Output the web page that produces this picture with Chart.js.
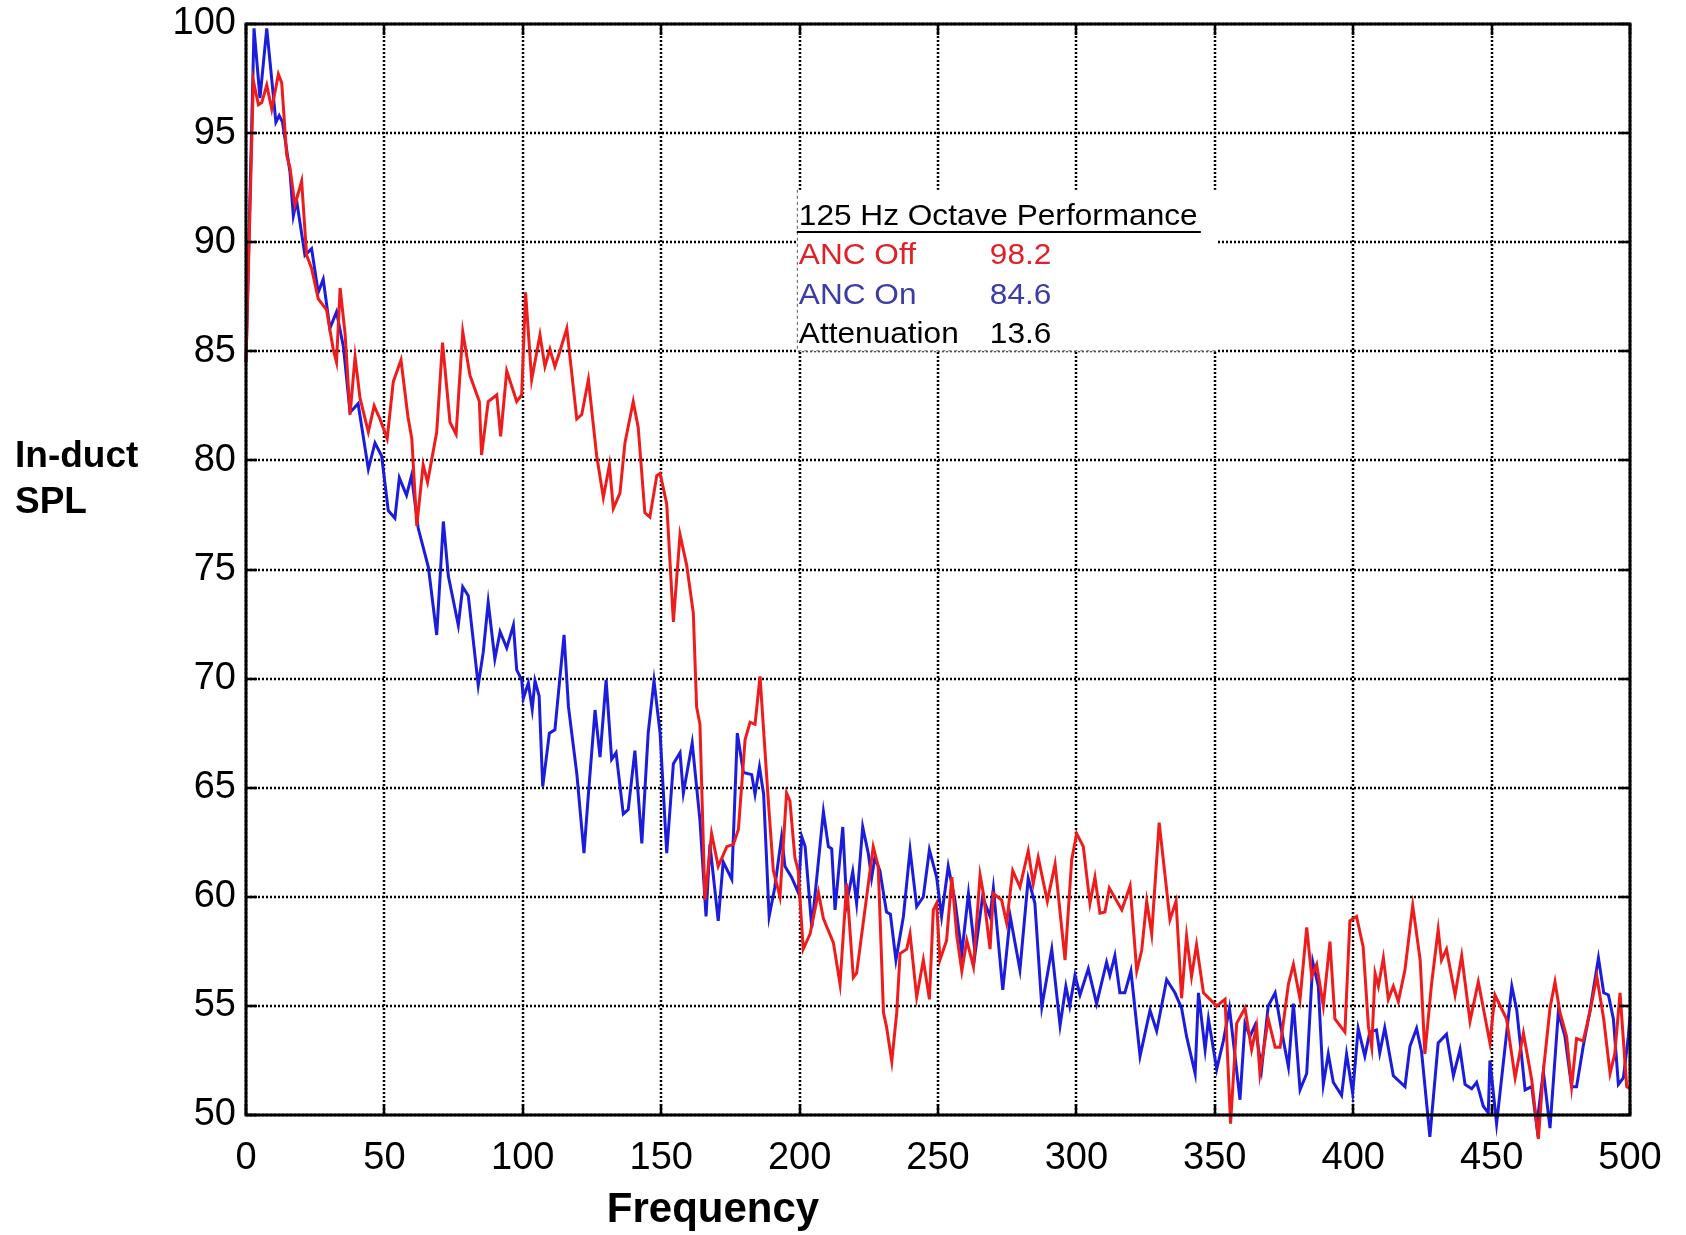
<!DOCTYPE html>
<html>
<head>
<meta charset="utf-8">
<script src="https://cdn.jsdelivr.net/npm/chart.js@4.4.1/dist/chart.umd.min.js"></script>
<style>
    html, body { margin: 0; padding: 0; background: #ffffff; }
    canvas { display: block; }
</style>
</head>
<body>
<canvas id="spl-chart" width="1686" height="1235"></canvas>
<script>
// ANC Off (red) - frequency / level vertices
const offFreq = [
    0, 2.65, 4.5, 5.7, 7.5, 9.3, 11.7, 12.9, 14.7, 15.9, 17.7, 20.1, 21.9, 23.7, 26.1, 29.1,
    31.5, 32.7, 34.0, 35.8, 37.6, 39.4, 41.2, 44.2, 46.3, 48.4, 51.0, 53.2, 56.0, 58.5, 59.9,
    61.7, 64.0, 65.6, 68.9, 71.0, 73.7, 75.9, 78.3, 80.9, 84.3, 85.1, 87.5, 90.6, 92.0, 94.2,
    97.8, 99.6, 101.0, 103.2, 106.2, 108.0, 109.8, 111.6, 113.4, 115.9, 119.5, 121.3, 123.7,
    126.7, 129.1, 131.3, 132.7, 135.1, 136.9, 139.9, 141.7, 144.1, 145.9, 148.4, 149.6, 152.0,
    154.4, 156.8, 159.2, 161.6, 162.8, 164.0, 165.8, 168.2, 170.6, 173.7, 176.1, 177.9, 180.3,
    182.1, 183.9, 185.7, 188.7, 190.5, 192.9, 195.3, 196.5, 198.3, 199.5, 201.3, 203.8, 206.8,
    208.6, 212.2, 214.6, 217.0, 219.4, 220.6, 226.6, 228.4, 230.3, 231.4, 233.3, 235.1, 236.3,
    238.7, 239.9, 242.3, 244.7, 246.9, 248.3, 249.5, 250.7, 253.1, 255.0, 256.8, 258.6, 260.4,
    262.8, 265.2, 266.4, 268.8, 270.0, 273.0, 274.8, 277.0, 279.6, 282.6, 284.4, 286.2, 289.5,
    292.3, 295.9, 298.3, 300.1, 302.5, 304.9, 306.7, 308.5, 310.3, 311.9, 316.4, 319.4, 321.8,
    323.6, 325.4, 327.2, 329.9, 333.8, 336.0, 338.0, 339.8, 341.6, 343.4, 345.9, 348.3, 350.7,
    353.7, 355.7, 357.9, 360.9, 363.3, 365.1, 366.3, 369.3, 371.8, 373.6, 376.6, 378.4, 380.8,
    383.2, 385.0, 386.8, 389.2, 391.6, 393.4, 397.0, 398.8, 401.2, 403.6, 405.5, 406.7, 407.9,
    409.1, 410.9, 412.7, 414.5, 416.3, 418.7, 421.5, 424.2, 425.9, 428.3, 430.7, 431.9, 433.7,
    436.8, 439.2, 442.2, 445.2, 447.0, 449.4, 451.2, 455.4, 458.5, 461.5, 464.5, 466.9, 468.7,
    471.1, 472.9, 474.7, 477.1, 478.9, 480.7, 483.1, 485.5, 488.0, 490.5, 492.8, 494.5, 496.4,
    498.8, 500
];
const offLevel = [
    84.5, 97.4, 96.3, 96.4, 97.2, 96.1, 97.7, 97.3, 94.0, 93.4, 91.7, 92.8, 89.4, 88.8, 87.4, 86.9,
    85.1, 84.5, 87.9, 85.8, 82.1, 84.75, 82.85, 81.3, 82.5, 81.9, 81.0, 83.6, 84.6, 82.0, 81.0,
    77.0, 79.8, 79.0, 81.3, 85.4, 81.75, 81.2, 85.9, 83.9, 82.7, 80.25, 82.7, 83.0, 81.1, 84.1,
    82.7, 83.0, 87.7, 83.7, 85.75, 84.3, 85.1, 84.3, 85.0, 86.05, 81.9, 82.1, 83.7,
    80.2, 78.3, 79.8, 77.8, 78.5, 80.8, 82.7, 81.5, 77.6, 77.4, 79.3, 79.4, 78.0,
    72.6, 76.6, 75.2, 73.0, 68.7, 67.9, 59.85, 62.9, 61.4, 62.3, 62.4, 63.1, 67.2,
    68.0, 67.9, 70.1, 64.4, 61.2, 60.0, 64.75, 64.4, 61.8, 61.2, 57.6, 58.3, 60.2,
    59.0, 57.9, 56.0, 60.6, 56.3, 56.5, 62.3, 61.4, 54.7, 54.05, 52.45, 54.7, 57.4,
    57.6, 58.3, 55.4, 57.1, 55.3, 59.4, 59.7, 57.1, 58.0, 60.9, 58.2, 56.6, 58.0,
    56.8, 61.0, 60.15, 57.6, 60.15, 59.85, 58.8, 61.2, 60.45, 62.1, 60.6, 61.8, 59.8,
    61.5, 57.1, 61.7, 62.9, 62.3, 59.7, 60.9, 59.25, 59.3, 60.4, 59.4, 60.5, 56.6,
    57.55, 59.8, 58.3, 63.4, 58.95, 59.8, 55.35, 58.2, 56.35, 57.8, 55.6, 55.3, 55.0,
    55.3, 49.6, 54.2, 54.9, 53.0, 54.05, 51.9, 54.4, 53.1, 53.1, 56.0, 56.9, 55.3,
    58.6, 56.35, 56.9, 55.0, 57.95, 54.4, 53.8, 58.9, 59.1, 57.7, 54.05, 53.1, 56.5,
    55.9, 57.2, 55.3, 55.9, 55.2, 56.65, 59.6, 57.1, 52.8, 56.0, 58.5, 57.1, 57.6,
    55.5, 57.3, 54.3, 56.1, 54.9, 53.3, 55.5, 54.4, 51.7, 53.75, 51.6, 48.9, 52.0,
    54.9, 56.1, 54.7, 53.6, 51.3, 53.5, 53.4, 54.7, 56.35, 54.4, 51.9, 52.8, 55.6,
    51.3, 51.2
];

// ANC On (blue)
const onFreq = [
    0, 2.9, 5.05, 7.5, 10.8, 12.0, 13.2, 15.9, 17.1, 18.3, 21.3, 23.7, 26.1, 27.9, 30.3, 32.7,
    35.2, 37.6, 40.5, 44.2, 46.6, 49.0, 51.4, 53.8, 55.4, 58.0, 59.8, 62.2, 65.9, 68.9, 71.3,
    73.1, 76.7, 78.3, 80.3, 83.9, 85.7, 87.5, 89.9, 91.8, 94.2, 96.6, 97.8, 99.6, 100.2, 102.0,
    103.4, 104.4, 105.9, 107.2, 109.6, 111.6, 114.9, 116.5, 119.5, 122.1, 123.7, 126.1, 127.9,
    130.1, 132.1, 133.7, 136.3, 138.1, 140.5, 143.0, 145.3, 147.4, 149.6, 152.0, 154.4, 156.8,
    158.0, 161.2, 164.0, 166.2, 167.6, 170.6, 172.4, 175.5, 177.5, 179.7, 182.7, 183.9, 185.5,
    187.0, 189.0, 191.0, 193.5, 194.7, 197.1, 199.5, 200.8, 202.0, 204.4, 208.6, 210.4, 211.6,
    212.8, 215.6, 217.0, 219.2, 220.6, 222.8, 224.8, 226.0, 227.2, 229.0, 231.4, 232.8, 234.8,
    237.5, 239.9, 242.3, 244.7, 246.9, 249.5, 251.3, 253.7, 256.1, 258.6, 261.0, 263.4, 266.1,
    268.8, 270.0, 273.4, 276.1, 279.6, 282.6, 285.0, 287.5, 291.1, 294.1, 296.2, 297.6, 299.5,
    301.3, 304.3, 307.3, 310.9, 312.1, 313.9, 315.7, 317.5, 319.7, 323.0, 326.6, 329.0, 332.6,
    335.6, 338.0, 339.8, 342.9, 344.1, 346.5, 347.7, 350.7, 353.1, 355.3, 357.3, 359.1, 360.9,
    362.7, 364.5, 366.9, 369.3, 371.8, 374.2, 376.6, 378.4, 380.8, 383.2, 385.4, 387.4, 389.2,
    391.0, 392.8, 395.8, 397.6, 399.8, 401.8, 404.2, 406.0, 408.4, 409.6, 411.4, 414.5, 418.7,
    420.5, 422.9, 424.7, 427.7, 430.7, 433.7, 436.2, 438.6, 440.4, 442.8, 444.6, 447.0, 448.8,
    449.4, 451.8, 457.3, 459.1, 462.1, 464.5, 466.3, 468.7, 471.1, 474.1, 476.5, 478.9, 480.7,
    483.1, 485.5, 488.6, 490.5, 492.2, 494.0, 495.8, 497.6, 499.4, 500
];
const onLevel = [
    84.5, 99.8, 96.6, 99.8, 95.5, 95.8, 95.5, 93.2, 91.2, 91.9, 89.4, 89.7, 87.7, 88.3, 86.05, 86.8,
    85.2, 82.2, 82.6, 79.6, 80.8, 80.2, 77.7, 77.35, 79.2, 78.4, 79.3, 76.9, 75.1, 72.0, 77.2,
    74.7, 72.45, 74.2, 73.8, 69.7, 71.2, 73.5, 70.9, 72.15, 71.4, 72.45, 70.4, 69.94, 69.1, 69.8,
    68.6, 69.9, 69.2, 65.05, 67.5, 67.65, 72.0, 68.7, 65.66, 62.0, 64.7, 68.56, 66.4,
    69.94, 66.3, 66.6, 63.8, 64.0, 66.7, 62.45, 67.5, 69.9, 67.5, 62.0, 66.1, 66.6,
    64.75, 67.05, 63.5, 59.1, 62.4, 58.9, 61.6, 60.8, 67.5, 65.7, 65.6, 64.7, 65.95,
    64.7, 59.1, 60.4, 62.75, 61.4, 60.9, 60.2, 62.75, 62.3, 58.6, 63.9, 62.3, 62.2,
    59.4, 63.2, 59.7, 61.15, 59.7, 63.2, 62.0, 60.85, 61.8, 61.2, 59.3, 59.2, 57.1,
    59.1, 62.15, 59.55, 60.0, 62.15, 60.9, 59.1, 61.4, 59.85, 57.4, 60.15, 57.4, 60.0,
    59.1, 60.4, 55.73, 59.1, 56.65, 60.85, 59.7, 54.96, 57.6, 54.1, 55.9, 55.0, 56.4,
    55.5, 56.7, 55.1, 57.0, 56.4, 57.3, 55.6, 55.6, 56.6, 52.7, 54.8, 53.85, 56.2,
    55.6, 54.9, 53.6, 51.9, 55.6, 53.0, 54.4, 52.1, 53.4, 54.9, 52.7, 50.7, 54.2,
    53.6, 54.1, 52.1, 55.0, 55.6, 53.8, 52.2, 55.1, 51.15, 51.9, 57.0, 55.9, 51.4,
    52.8, 51.5, 50.9, 52.8, 51.0, 53.97, 52.7, 53.8, 53.9, 52.85, 54.0, 51.8, 51.3,
    53.15, 53.97, 52.9, 49.0, 53.3, 53.7, 51.8, 53.0, 51.4, 51.2, 51.5, 50.4, 50.1,
    52.5, 49.6, 55.9, 54.8, 51.15, 51.3, 49.5, 52.0, 49.4, 54.7, 53.6, 51.3, 51.3,
    53.15, 54.75, 57.2, 55.6, 55.5, 54.4, 51.4, 51.7, 53.6, 54.5
];

const xTicks = [0, 50, 100, 150, 200, 250, 300, 350, 400, 450, 500];
const yTicks = [50, 55, 60, 65, 70, 75, 80, 85, 90, 95, 100];

// 125 Hz octave summary box
const summaryTitle = '125 Hz Octave Performance';
const summaryRows = [
    { label: 'ANC Off', value: '98.2', color: '#e0202a' },
    { label: 'ANC On', value: '84.6', color: '#3c3ca8' },
    { label: 'Attenuation', value: '13.6', color: '#000000' },
];

const FONT = '"Liberation Sans", Arial, Helvetica, sans-serif';
const RED = '#ee1c1c';
const BLUE = '#1c1cdc';

const toPoints = (xs, ys) => xs.map((x, i) => ({ x, y: ys[i] }));

// matlab-style axes: dotted grid, boxed frame, inward ticks, summary text box, axis titles
const matlabAxes = {
    id: 'matlabAxes',
    beforeDatasetsDraw(chart) {
        const { ctx, chartArea: area, scales: { x, y } } = chart;
        ctx.save();
        ctx.strokeStyle = '#000000';
        ctx.lineWidth = 2.5;
        ctx.setLineDash([2, 2]);
        xTicks.forEach((v) => {
            const px = Math.round(x.getPixelForValue(v));
            ctx.beginPath();
            ctx.moveTo(px, area.top);
            ctx.lineTo(px, area.bottom);
            ctx.stroke();
        });
        yTicks.forEach((v) => {
            const py = Math.round(y.getPixelForValue(v));
            ctx.beginPath();
            ctx.moveTo(area.left, py);
            ctx.lineTo(area.right, py);
            ctx.stroke();
        });
        ctx.restore();

        // summary box sits over the grid
        const left = x.getPixelForValue(199);
        const right = x.getPixelForValue(351);
        const top = y.getPixelForValue(92.4);
        const bottom = y.getPixelForValue(85);
        ctx.save();
        ctx.fillStyle = '#ffffff';
        ctx.fillRect(left, top, right - left, bottom - top);
        ctx.strokeStyle = '#555555';
        ctx.lineWidth = 1;
        ctx.setLineDash([3, 3]);
        ctx.beginPath();
        ctx.moveTo(left + 0.5, top);
        ctx.lineTo(left + 0.5, bottom - 0.5);
        ctx.lineTo(right, bottom - 0.5);
        ctx.stroke();
        ctx.setLineDash([]);

        const tx = left + 2;
        ctx.font = `29px ${FONT}`;
        ctx.textBaseline = 'alphabetic';
        ctx.textAlign = 'left';
        const drawWide = (text, px, py, color) => {
            ctx.save();
            ctx.translate(px, py);
            ctx.scale(1.09, 1);
            ctx.fillStyle = color;
            ctx.fillText(text, 0, 0);
            ctx.restore();
        };
        drawWide(summaryTitle, tx, 225, '#000000');
        ctx.strokeStyle = '#000000';
        ctx.lineWidth = 2;
        ctx.beginPath();
        ctx.moveTo(left, 232);
        ctx.lineTo(left + 404, 232);
        ctx.stroke();
        summaryRows.forEach((row, i) => {
            const base = 264 + i * 39.5;
            drawWide(row.label, tx, base, row.color);
            drawWide(row.value, tx + 191, base, row.color);
        });
        ctx.restore();
    },
    afterDatasetsDraw(chart) {
        const { ctx, chartArea: area, scales: { x, y } } = chart;
        ctx.save();
        ctx.strokeStyle = '#000000';
        ctx.lineWidth = 3;
        ctx.strokeRect(area.left, area.top, area.right - area.left, area.bottom - area.top);
        ctx.lineWidth = 2.5;
        const tick = 11;
        xTicks.forEach((v) => {
            const px = Math.round(x.getPixelForValue(v));
            ctx.beginPath();
            ctx.moveTo(px, area.bottom);
            ctx.lineTo(px, area.bottom - tick);
            ctx.moveTo(px, area.top);
            ctx.lineTo(px, area.top + tick);
            ctx.stroke();
        });
        yTicks.forEach((v) => {
            const py = Math.round(y.getPixelForValue(v));
            ctx.beginPath();
            ctx.moveTo(area.left, py);
            ctx.lineTo(area.left + tick, py);
            ctx.moveTo(area.right, py);
            ctx.lineTo(area.right - tick, py);
            ctx.stroke();
        });

        ctx.fillStyle = '#000000';
        ctx.font = `bold 37px ${FONT}`;
        ctx.textAlign = 'left';
        ctx.textBaseline = 'alphabetic';
        ctx.fillText('In-duct', 15, 467);
        ctx.fillText('SPL', 15, 513);
        ctx.font = `bold 42px ${FONT}`;
        ctx.textAlign = 'center';
        ctx.fillText('Frequency', 713, 1222);
        ctx.restore();
    },
};

new Chart(document.getElementById('spl-chart'), {
    type: 'line',
    data: {
        datasets: [
            {
                label: 'ANC Off',
                data: toPoints(offFreq, offLevel),
                borderColor: RED,
                borderWidth: 3,
                pointRadius: 0,
                tension: 0,
                clip: false,
            },
            {
                label: 'ANC On',
                data: toPoints(onFreq, onLevel),
                borderColor: BLUE,
                borderWidth: 3,
                pointRadius: 0,
                tension: 0,
                clip: false,
            },
        ],
    },
    options: {
        responsive: false,
        animation: false,
        devicePixelRatio: 1,
        layout: { padding: { left: 0, top: 24, right: 56, bottom: 0 } },
        plugins: {
            legend: { display: false },
            tooltip: { enabled: false },
        },
        scales: {
            x: {
                type: 'linear',
                min: 0,
                max: 500,
                afterFit: (scale) => { scale.height = 120; },
                afterBuildTicks: (scale) => { scale.ticks = xTicks.map((value) => ({ value })); },
                grid: { display: false, drawTicks: false, tickLength: 0 },
                border: { display: false },
                ticks: {
                    color: '#000000',
                    padding: 21,
                    maxRotation: 0,
                    font: { family: FONT, size: 38, lineHeight: 1.2 },
                },
            },
            y: {
                type: 'linear',
                min: 50,
                max: 100,
                afterFit: (scale) => { scale.width = 246; },
                afterBuildTicks: (scale) => { scale.ticks = yTicks.map((value) => ({ value })); },
                grid: { display: false, drawTicks: false, tickLength: 0 },
                border: { display: false },
                ticks: {
                    color: '#000000',
                    padding: 10,
                    font: { family: FONT, size: 38, lineHeight: 0.6 },
                },
            },
        },
    },
    plugins: [matlabAxes],
});
</script>
</body>
</html>
